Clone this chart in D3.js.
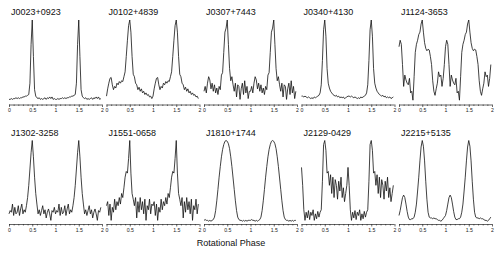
<!DOCTYPE html>
<html>
<head>
<meta charset="utf-8">
<script src="https://cdn.jsdelivr.net/npm/d3@7"></script>
<style>
  html, body { margin: 0; padding: 0; background: #fff; }
  svg { display: block; font-family: "Liberation Sans", Arial, sans-serif; }
</style>
</head>
<body>
<svg id="profiles" width="503" height="255" viewBox="0 0 503 255"></svg>
<script>
'use strict';

/* global d3 */

// pulsar names, in panel order (left to right, top to bottom)
var names = ['J0023+0923', 'J0102+4839', 'J0307+7443', 'J0340+4130', 'J1124-3653',
  'J1302-3258', 'J1551-0658', 'J1810+1744', 'J2129-0429', 'J2215+5135'];

// normalised profiles, one rotation each, sampled every 0.025 in phase
var j0023 = [0.02, 0.02, 0.03, 0.02, 0.03, 0.03, 0.04, 0.03, 0.04, 0.03, 0.04, 0.04, 0.05, 0.05, 0.06, 0.06, 0.07, 0.08, 0.22, 0.7,
  1.0, 0.55, 0.14, 0.06, 0.04, 0.03, 0.04, 0.02, 0.03, 0.02, 0.03, 0.04, 0.02, 0.04, 0.03, 0.05, 0.03, 0.05, 0.02, 0.03];
var j0102 = [0.06, 0.15, 0.22, 0.28, 0.29, 0.2, 0.14, 0.18, 0.16, 0.22, 0.2, 0.24, 0.22, 0.25, 0.24, 0.3, 0.36, 0.55, 0.75, 0.93,
  1.0, 0.85, 0.55, 0.33, 0.3, 0.22, 0.2, 0.14, 0.17, 0.12, 0.15, 0.1, 0.12, 0.08, 0.1, 0.07, 0.08, 0.05, 0.06, 0.03];
var j0307 = [0.12, 0.18, 0.1, 0.22, 0.3, 0.26, 0.15, 0.22, 0.12, 0.2, 0.1, 0.16, 0.08, 0.18, 0.14, 0.32, 0.35, 0.6, 0.85, 0.9,
  1.0, 0.7, 0.4, 0.25, 0.3, 0.2, 0.12, 0.22, 0.05, 0.2, 0.18, 0.02, 0.15, 0.22, 0.08, 0.25, 0.1, 0.18, 0.03, 0.12];
var j0340 = [0.06, 0.06, 0.05, 0.06, 0.05, 0.04, 0.05, 0.04, 0.03, 0.04, 0.03, 0.05, 0.04, 0.05, 0.06, 0.07, 0.1, 0.2, 0.5, 0.88,
  1.0, 0.8, 0.4, 0.22, 0.16, 0.12, 0.1, 0.08, 0.07, 0.06, 0.07, 0.05, 0.06, 0.04, 0.05, 0.04, 0.05, 0.03, 0.04, 0.05];
var j1124 = [0.67, 0.75, 0.7, 0.45, 0.18, 0.32, 0.26, 0.22, 0.2, 0.28, 0.1, 0.12, 0.01, 0.3, 0.6, 0.7, 0.75, 0.82, 0.85, 0.95,
  1.0, 0.85, 0.72, 0.65, 0.62, 0.64, 0.63, 0.55, 0.45, 0.25, 0.12, 0.07, 0.15, 0.22, 0.36, 0.3, 0.32, 0.18, 0.28, 0.45];
var j1302 = [0.1, 0.14, 0.12, 0.22, 0.08, 0.18, 0.1, 0.12, 0.2, 0.08, 0.16, 0.22, 0.1, 0.15, 0.12, 0.2, 0.3, 0.45, 0.65, 0.85,
  1.0, 0.8, 0.55, 0.35, 0.22, 0.1, 0.15, 0.08, 0.14, 0.2, 0.1, 0.15, 0.05, 0.12, 0.16, 0.1, 0.02, 0.14, 0.12, 0.18];
var j1551 = [0.2, 0.25, 0.08, 0.22, 0.02, 0.18, 0.12, 0.28, 0.15, 0.25, 0.2, 0.3, 0.22, 0.35, 0.3, 0.42, 0.55, 0.62, 0.6, 0.78,
  1.0, 0.6, 0.35, 0.28, 0.2, 0.3, 0.05, 0.25, 0.12, 0.3, 0.15, 0.25, 0.1, 0.28, 0.02, 0.2, 0.15, 0.28, 0.1, 0.22];
var j1810 = [0.02, 0.03, 0.02, 0.02, 0.01, 0.02, 0.01, 0.02, 0.03, 0.06, 0.14, 0.26, 0.4, 0.55, 0.68, 0.8, 0.89, 0.95, 0.99, 1.0,
  0.99, 0.96, 0.9, 0.8, 0.68, 0.54, 0.4, 0.26, 0.14, 0.06, 0.03, 0.02, 0.02, 0.01, 0.02, 0.01, 0.02, 0.01, 0.02, 0.02];
var j2129 = [0.67, 0.45, 0.15, 0.02, 0.12, 0.05, 0.14, 0.03, 0.12, 0.08, 0.15, 0.02, 0.1, 0.04, 0.13, 0.06, 0.12, 0.15, 0.5, 0.95,
  1.0, 0.88, 0.6, 0.62, 0.45, 0.58, 0.35, 0.55, 0.3, 0.52, 0.45, 0.28, 0.5, 0.38, 0.55, 0.3, 0.42, 0.25, 0.35, 0.45];
var j2215 = [0.08, 0.14, 0.22, 0.3, 0.33, 0.3, 0.22, 0.13, 0.06, 0.03, 0.03, 0.04, 0.04, 0.06, 0.12, 0.22, 0.38, 0.55, 0.75, 0.92,
  1.0, 0.93, 0.75, 0.5, 0.28, 0.12, 0.06, 0.05, 0.05, 0.04, 0.05, 0.04, 0.04, 0.03, 0.02, 0.02, 0.01, 0.02, 0.04, 0.06];

var profiles = [j0023, j0102, j0307, j0340, j1124, j1302, j1551, j1810, j2129, j2215];

// x axis
var majorTicks = [0, 0.5, 1, 1.5, 2];
var tickLabels = ['0', '0.5', '1', '1.5', '2'];
var minorTicks = [0.1, 0.2, 0.3, 0.4, 0.6, 0.7, 0.8, 0.9, 1.1, 1.2, 1.3, 1.4, 1.6, 1.7, 1.8, 1.9];
var xTitle = 'Rotational Phase';

(function () {
  var svg = d3.select('#profiles');

  var cols = 5;
  var panelLeft = 9;
  var panelStep = 97.5;
  var panelWidth = 93;
  // per row: [y of value 0, y of value 1, y of axis, title baseline]
  var rows = [
    { bottom: 101, top: 20, axis: 104.5, title: 15 },
    { bottom: 222, top: 140.5, axis: 224, title: 135.5 }
  ];

  profiles.forEach(function (prof, i) {
    var row = rows[Math.floor(i / cols)];
    var x0 = panelLeft + (i % cols) * panelStep;

    var x = d3.scaleLinear().domain([0, 2]).range([x0, x0 + panelWidth]);
    var y = d3.scaleLinear().domain([0, 1]).range([row.bottom, row.top]);

    var g = svg.append('g').attr('class', 'panel');

    // profile is plotted over two rotations
    var pts = [];
    [0, 1].forEach(function (r) {
      prof.forEach(function (v, k) {
        pts.push({ phase: r + k / prof.length, value: v });
      });
    });

    var line = d3.line().x(function (d) {
      return x(d.phase);
    }).y(function (d) {
      return y(d.value);
    });

    g.append('path').datum(pts).attr('d', line)
      .attr('fill', 'none').attr('stroke', '#111').attr('stroke-width', 0.8)
      .attr('stroke-linejoin', 'round');

    var xAxis = d3.axisBottom(x).tickValues(majorTicks).tickSize(2.5).tickPadding(1.5)
      .tickFormat(function (d, k) {
        return tickLabels[k];
      });
    var xMinor = d3.axisBottom(x).tickValues(minorTicks).tickSize(1.5).tickFormat('');

    var ax = g.append('g').attr('transform', 'translate(0,' + row.axis + ')').call(xAxis);
    ax.select('.domain').attr('d', 'M' + x(0) + ',0.5H' + x(2)).attr('stroke', '#222').attr('stroke-width', 0.7);
    ax.selectAll('.tick line').attr('stroke', '#222').attr('stroke-width', 0.7);
    ax.selectAll('.tick text').attr('font-size', 5.2).attr('fill', '#222')
      .attr('font-family', '"Liberation Sans", Arial, sans-serif');

    var mn = g.append('g').attr('transform', 'translate(0,' + row.axis + ')').call(xMinor);
    mn.select('.domain').remove();
    mn.selectAll('.tick line').attr('stroke', '#222').attr('stroke-width', 0.6);

    g.append('text').attr('x', x0 + 2).attr('y', row.title)
      .attr('font-size', 9).attr('fill', '#111').text(names[i]);
  });

  svg.append('text').attr('x', 231).attr('y', 246).attr('text-anchor', 'middle')
    .attr('font-size', 9).attr('fill', '#111').text(xTitle);
})();
</script>
</body>
</html>
